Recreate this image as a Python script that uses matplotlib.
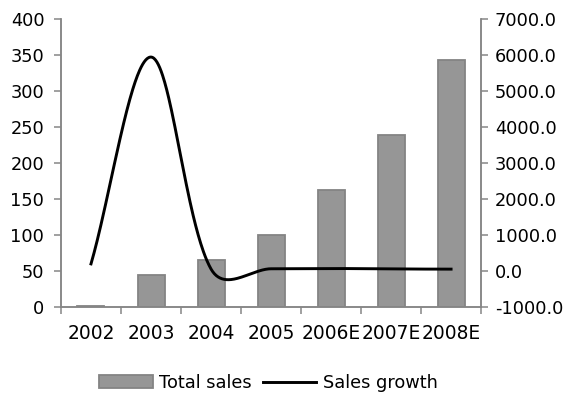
import numpy as np
import matplotlib
matplotlib.use("Agg")
import matplotlib.pyplot as plt
from matplotlib.patches import Patch
from matplotlib.lines import Line2D

years = ["2002", "2003", "2004", "2005", "2006E", "2007E", "2008E"]
total_sales = [0.7, 44, 65, 100, 162, 239, 343]
sales_growth = [190, 5940, 48, 54, 62, 48, 44]


def smooth_curve(px, py, n=80):
    """Parametric Hermite smoothing through (px, py), given in pixel space.

    Tangents at each knot are weighted by the square root of the adjacent
    chord lengths so that short segments next to long ones do not overshoot.
    """
    P = np.column_stack([px, py]).astype(float)
    # reflected phantom end points
    P = np.vstack([2 * P[0] - P[1], P, 2 * P[-1] - P[-2]])
    d = np.sqrt(np.linalg.norm(np.diff(P, axis=0), axis=1))
    out_x, out_y = [], []
    for i in range(1, len(P) - 2):
        p1, p2 = P[i], P[i + 1]
        base1 = (P[i + 1] - P[i - 1]) / 2
        base2 = (P[i + 2] - P[i]) / 2
        m1 = base1 * 2 * d[i] / (d[i - 1] + d[i])
        m2 = base2 * 2 * d[i] / (d[i] + d[i + 1])
        t = np.linspace(0, 1, n)[:, None]
        h00 = 2 * t**3 - 3 * t**2 + 1
        h10 = t**3 - 2 * t**2 + t
        h01 = -2 * t**3 + 3 * t**2
        h11 = t**3 - t**2
        seg = h00 * p1 + h10 * m1 + h01 * p2 + h11 * m2
        out_x.append(seg[:, 0])
        out_y.append(seg[:, 1])
    return np.concatenate(out_x), np.concatenate(out_y)


plt.rcParams["font.family"] = ["DejaVu Sans"]
fs = 12.8
axis_grey = "#868686"

fig = plt.figure(figsize=(5.70, 4.03), dpi=100)
ax = fig.add_axes([0.107, 0.239, 0.737, 0.714])
x = np.arange(len(years))

ax.bar(x, total_sales, width=0.45, color="#969696", edgecolor="#848484",
       linewidth=1.3, zorder=2)
ax.set_xlim(-0.5, len(years) - 0.5)
ax.set_ylim(0, 400)
ax.set_yticks(np.arange(0, 401, 50))
ax.set_xticks(np.arange(-0.5, len(years), 1.0))
ax.set_xticklabels([])
ax.set_xticks(x, minor=True)
ax.set_xticklabels(years, minor=True, fontsize=13.4)
ax.tick_params(axis="x", which="minor", length=0, pad=12.5)
ax.tick_params(axis="x", which="major", length=5, width=1.1, color=axis_grey)
ax.tick_params(axis="y", length=5, width=1.1, color=axis_grey,
               labelsize=fs, pad=7)

ax2 = ax.twinx()
ax2.set_ylim(-1000, 7000)
ax2.set_yticks(np.arange(-1000, 7001, 1000))
ax2.set_yticklabels([f"{v:.1f}" for v in np.arange(-1000, 7001, 1000)])
ax2.tick_params(axis="y", length=5, width=1.1, color=axis_grey,
                labelsize=fs, pad=5)

# smooth the growth line in pixel space, then map back to data units
fig.canvas.draw()
to_px = ax2.transData
pts = to_px.transform(np.column_stack([x, sales_growth]))
sx, sy = smooth_curve(pts[:, 0], pts[:, 1])
curve = to_px.inverted().transform(np.column_stack([sx, sy]))
ax2.plot(curve[:, 0], curve[:, 1], color="black", linewidth=2.1, zorder=3)

for a in (ax, ax2):
    a.spines["top"].set_visible(False)
    for s in ("left", "right", "bottom"):
        a.spines[s].set_color(axis_grey)
        a.spines[s].set_linewidth(1.1)

handles = [Patch(facecolor="#969696", edgecolor="#848484", linewidth=1.3,
                 label="Total sales"),
           Line2D([0], [0], color="black", linewidth=2.1, label="Sales growth")]
fig.legend(handles=handles, loc="center", bbox_to_anchor=(0.471, 0.05),
           ncol=2, frameon=False, fontsize=fs, handlelength=3.0,
           handletextpad=0.35, columnspacing=0.65)

fig.savefig("out.png", dpi=100)
